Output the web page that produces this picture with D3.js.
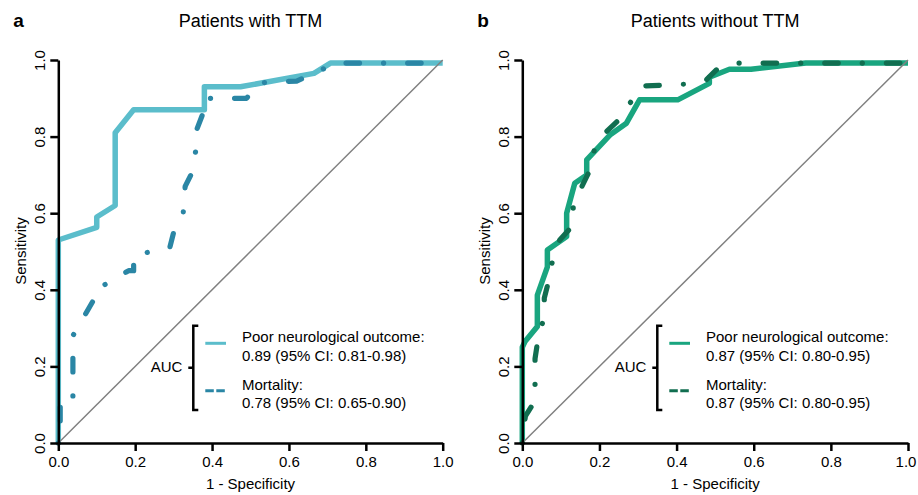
<!DOCTYPE html>
<html>
<head>
<meta charset="utf-8">
<script src="https://cdn.jsdelivr.net/npm/d3@7"></script>
<style>
  body{margin:0;background:#fff;}
  text{font-family:"Liberation Sans",Arial,Helvetica,sans-serif;fill:#000;}
</style>
</head>
<body>
<svg id="display" width="918" height="495"></svg>
<script>
// ROC curves (1 - specificity, sensitivity)
const ttm_neuro_fpr=[0,0,0.10,0.10,0.148,0.148,0.196,0.38,0.38,0.474,0.665,0.708,1.0];
const ttm_neuro_sens=[0,0.53,0.563,0.59,0.62,0.81,0.87,0.87,0.93,0.93,0.965,0.992,0.992];

const ttm_mort_fpr=[0,0.005,0.005,0.038,0.038,0.09,0.105,0.115,0.183,0.196,0.196,0.29,0.30,0.325,0.33,0.345,0.357,0.357,0.38,0.38,0.49,0.52,0.62,0.67,0.72,1.0];
const ttm_mort_sens=[0,0,0.10,0.10,0.28,0.37,0.41,0.41,0.45,0.45,0.49,0.51,0.55,0.60,0.67,0.70,0.76,0.81,0.87,0.90,0.90,0.94,0.945,0.967,0.992,0.992];

const nottm_neuro_fpr=[0,0,0.007,0.039,0.039,0.065,0.065,0.115,0.115,0.136,0.167,0.167,0.227,0.27,0.304,0.403,0.485,0.485,0.537,0.593,0.735,1.0];
const nottm_neuro_sens=[0,0.25,0.265,0.304,0.386,0.46,0.504,0.539,0.60,0.678,0.70,0.739,0.804,0.835,0.896,0.896,0.939,0.955,0.976,0.976,0.992,0.992];

const nottm_mort_fpr=[0,0.008,0.033,0.033,0.041,0.057,0.057,0.07,0.08,0.097,0.132,0.132,0.154,0.179,0.188,0.218,0.257,0.287,0.309,0.425,0.477,0.507,0.56,1.0];
const nottm_mort_sens=[0,0.07,0.11,0.22,0.273,0.33,0.378,0.43,0.486,0.53,0.569,0.626,0.669,0.72,0.774,0.813,0.85,0.90,0.932,0.937,0.948,0.978,0.992,0.992];

const tick_values=[0,0.2,0.4,0.6,0.8,1.0];
const panel_letters=["a","b"];
const panel_titles=["Patients with TTM","Patients without TTM"];
const legend_labels=["Poor neurological outcome:","Mortality:"];
const auc_texts_ttm=["0.89 (95% CI: 0.81-0.98)","0.78 (95% CI: 0.65-0.90)"];
const auc_texts_nottm=["0.87 (95% CI: 0.80-0.95)","0.87 (95% CI: 0.80-0.95)"];

const display=d3.select("#display");

function to_points(fpr,sens){
    return fpr.map((f,i)=>[f,sens[i]]);
}

function draw_panel(p){
    const x=d3.scaleLinear().domain([0,1]).range([p.x0,p.x1]);
    const y=d3.scaleLinear().domain([0,1]).range([443,60]);
    const g=display.append("g");
    const line=d3.line().x(d=>x(d[0])).y(d=>y(d[1]));

    // panel letter and title
    g.append("text").attr("x",p.x0-45).attr("y",27)
        .style("font-size","19px").style("font-weight","bold").text(p.letter);
    g.append("text").attr("x",(p.x0+p.x1)/2).attr("y",27)
        .attr("text-anchor","middle").style("font-size","18px").text(p.title);

    // curves
    g.append("path").attr("d",line(p.solid))
        .attr("fill","none").attr("stroke",p.color1)
        .attr("stroke-width",5.5).attr("stroke-linejoin","round");
    g.append("path").attr("d",line(p.dashed))
        .attr("fill","none").attr("stroke",p.color2)
        .attr("stroke-width",5.2).attr("stroke-linecap","round")
        .attr("stroke-linejoin","round")
        .attr("stroke-dasharray","0.1,24,13.5,24");

    // reference diagonal
    g.append("line")
        .attr("x1",x(0)).attr("y1",y(0)).attr("x2",x(1)).attr("y2",y(1))
        .attr("stroke","#808080").attr("stroke-width",1.5);

    // x axis
    const xa=g.append("g").attr("transform","translate(0,443)")
        .call(d3.axisBottom(x).tickValues(tick_values).tickFormat(d3.format(".1f"))
            .tickSize(8).tickSizeOuter(0).tickPadding(5));
    xa.selectAll("path,line").attr("stroke","#000").attr("stroke-width",2.5);
    xa.selectAll("text").style("font-size","15px").attr("fill","#000");
    // last label nudged in so it stays inside the window
    xa.selectAll("text").filter(d=>d===1).attr("dx",p.last_dx);

    // y axis, labels rotated
    const ya=g.append("g").attr("transform","translate("+p.x0+",0)")
        .call(d3.axisLeft(y).tickValues(tick_values).tickFormat(d3.format(".1f"))
            .tickSize(8).tickSizeOuter(0));
    ya.selectAll("path,line").attr("stroke","#000").attr("stroke-width",2.5);
    ya.selectAll("text").style("font-size","15px").attr("fill","#000")
        .attr("transform","rotate(-90)").attr("x",0).attr("y",-13).attr("dy",0)
        .attr("text-anchor","middle");

    // axis titles
    g.append("text").attr("x",(p.x0+p.x1)/2).attr("y",489)
        .attr("text-anchor","middle").style("font-size","15px").text("1 - Specificity");
    g.append("text").attr("transform","translate("+(p.x0-32)+",251) rotate(-90)")
        .attr("text-anchor","middle").style("font-size","15px").text("Sensitivity");

    // legend with bracket
    const bx=p.x0+135;
    g.append("path")
        .attr("d","M"+(bx+5)+",325.7H"+bx+"V410H"+(bx+5)+"M"+bx+",367.7H"+(bx-5))
        .attr("fill","none").attr("stroke","#000").attr("stroke-width",2.5);
    g.append("text").attr("x",bx-11).attr("y",372).attr("text-anchor","end")
        .style("font-size","15px").text("AUC");
    g.append("line").attr("x1",bx+12).attr("x2",bx+32.7).attr("y1",343.3).attr("y2",343.3)
        .attr("stroke",p.color1).attr("stroke-width",3);
    g.append("line").attr("x1",bx+12).attr("x2",bx+32.7).attr("y1",390.7).attr("y2",390.7)
        .attr("stroke",p.color2).attr("stroke-width",3).attr("stroke-dasharray","8.5,2.5");
    const tx=bx+48.7;
    const rows=[[legend_labels[0],341.7],[p.auc[0],360.5],[legend_labels[1],389.5],[p.auc[1],408.3]];
    for (const r of rows){
        g.append("text").attr("x",tx).attr("y",r[1]).style("font-size","15px").text(r[0]);
    }
}

draw_panel({x0:58.3,x1:442.7,letter:panel_letters[0],title:panel_titles[0],
    solid:to_points(ttm_neuro_fpr,ttm_neuro_sens),dashed:to_points(ttm_mort_fpr,ttm_mort_sens),
    color1:"#5bbdcb",color2:"#2a86a5",auc:auc_texts_ttm,last_dx:0});
draw_panel({x0:522.3,x1:908,letter:panel_letters[1],title:panel_titles[1],
    solid:to_points(nottm_neuro_fpr,nottm_neuro_sens),dashed:to_points(nottm_mort_fpr,nottm_mort_sens),
    color1:"#19a57f",color2:"#116e50",auc:auc_texts_nottm,last_dx:-2.5});
</script>
</body>
</html>
